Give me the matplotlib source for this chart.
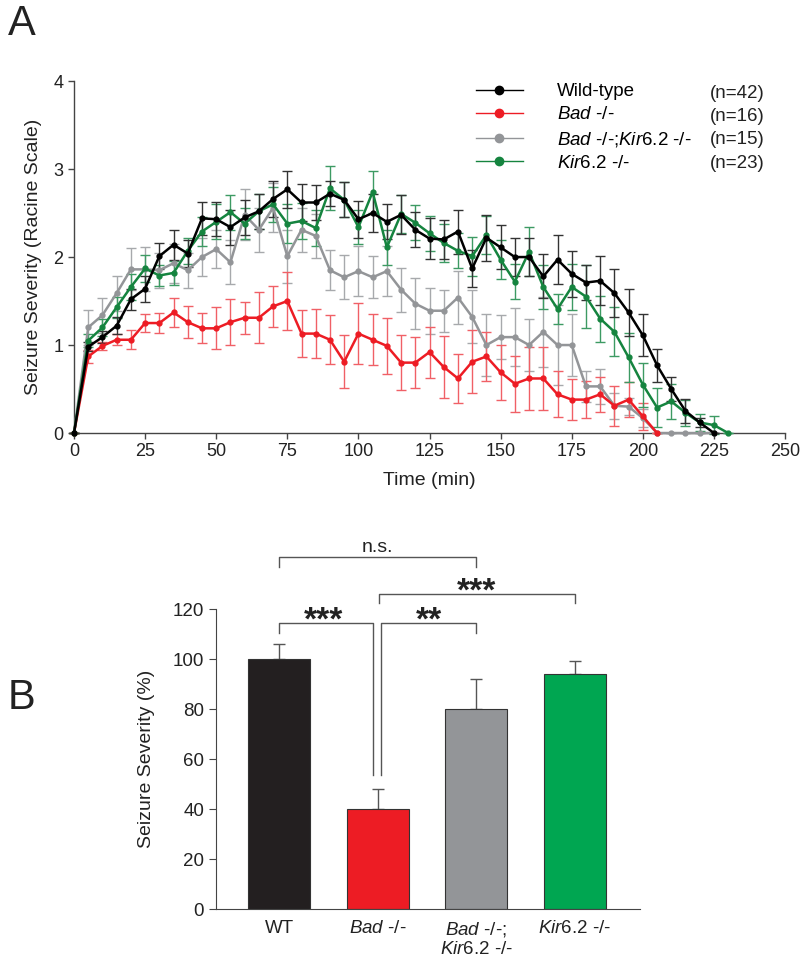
import numpy as np
import matplotlib
matplotlib.use("Agg")
import matplotlib.pyplot as plt
from matplotlib.lines import Line2D

plt.rcParams['font.family'] = ['Liberation Sans', 'DejaVu Sans']
plt.rcParams['mathtext.fontset'] = 'custom'
plt.rcParams['mathtext.rm'] = 'Liberation Sans'
plt.rcParams['mathtext.it'] = 'Liberation Sans:italic'

# ---- panel A data (time course, Racine scale) ----
time_wt = [0, 5, 10, 15, 20, 25, 30, 35, 40, 45, 50, 55, 60, 65, 70, 75, 80, 85, 90, 95,
           100, 105, 110, 115, 120, 125, 130, 135, 140, 145, 150, 155, 160, 165, 170, 175,
           180, 185, 190, 195, 200, 205, 210, 215, 220, 225]
wt = [0, 0.98, 1.09, 1.22, 1.52, 1.64, 2.01, 2.14, 2.04, 2.44, 2.43, 2.34, 2.45, 2.52, 2.66,
      2.77, 2.62, 2.62, 2.72, 2.65, 2.43, 2.50, 2.40, 2.48, 2.31, 2.21, 2.20, 2.29, 1.87, 2.22,
      2.11, 2.00, 2.00, 1.78, 1.97, 1.81, 1.71, 1.73, 1.59, 1.37, 1.11, 0.77, 0.50, 0.25, 0.12, 0.0]
wt_err = [0, 0.05, 0.07, 0.10, 0.12, 0.15, 0.15, 0.17, 0.15, 0.19, 0.19, 0.20, 0.20, 0.20, 0.20,
          0.21, 0.21, 0.20, 0.14, 0.20, 0.21, 0.22, 0.20, 0.22, 0.20, 0.23, 0.22, 0.25, 0.21, 0.26,
          0.25, 0.22, 0.22, 0.25, 0.28, 0.26, 0.20, 0.28, 0.27, 0.27, 0.24, 0.19, 0.14, 0.14, 0.05, 0]

time_bad = [0, 5, 10, 15, 20, 25, 30, 35, 40, 45, 50, 55, 60, 65, 70, 75, 80, 85, 90, 95,
            100, 105, 110, 115, 120, 125, 130, 135, 140, 145, 150, 155, 160, 165, 170, 175,
            180, 185, 190, 195, 200, 205]
bad = [0, 0.87, 0.99, 1.06, 1.06, 1.25, 1.25, 1.37, 1.26, 1.19, 1.19, 1.26, 1.31, 1.31, 1.44,
       1.50, 1.13, 1.13, 1.06, 0.81, 1.13, 1.06, 0.99, 0.80, 0.80, 0.92, 0.75, 0.62, 0.81, 0.87,
       0.69, 0.56, 0.62, 0.62, 0.44, 0.38, 0.38, 0.44, 0.31, 0.38, 0.19, 0.0]
bad_err = [0, 0.07, 0.05, 0.06, 0.11, 0.10, 0.11, 0.16, 0.18, 0.17, 0.24, 0.26, 0.18, 0.29, 0.23,
           0.33, 0.27, 0.28, 0.28, 0.30, 0.35, 0.29, 0.32, 0.31, 0.29, 0.29, 0.35, 0.28, 0.36, 0.28,
           0.31, 0.32, 0.36, 0.36, 0.26, 0.23, 0.21, 0.20, 0.23, 0.20, 0.15, 0]

time_dko = time_wt
dko = [0, 1.20, 1.34, 1.59, 1.86, 1.86, 1.85, 1.93, 1.85, 2.00, 2.09, 1.94, 2.48, 2.31, 2.56,
       2.01, 2.31, 2.24, 1.85, 1.77, 1.84, 1.77, 1.84, 1.63, 1.47, 1.39, 1.39, 1.54, 1.32, 1.00,
       1.09, 1.09, 1.00, 1.15, 1.00, 1.00, 0.53, 0.53, 0.31, 0.30, 0.17, 0, 0, 0, 0, 0]
dko_err = [0, 0.20, 0.20, 0.20, 0.24, 0.25, 0.20, 0.22, 0.20, 0.22, 0.22, 0.25, 0.29, 0.25, 0.28,
           0.30, 0.25, 0.25, 0.23, 0.25, 0.28, 0.24, 0.28, 0.25, 0.29, 0.26, 0.24, 0.30, 0.30, 0.35,
           0.25, 0.33, 0.30, 0.40, 0.45, 0.35, 0.18, 0.20, 0.15, 0.10, 0.10, 0, 0, 0, 0, 0]

time_kir = time_wt + [230]
kir = [0, 1.05, 1.20, 1.43, 1.66, 1.87, 1.79, 1.82, 2.07, 2.29, 2.40, 2.51, 2.38, 2.52, 2.60,
       2.38, 2.41, 2.33, 2.78, 2.65, 2.34, 2.74, 2.11, 2.49, 2.39, 2.27, 2.16, 2.07, 2.01, 2.25,
       1.97, 1.72, 2.06, 1.66, 1.41, 1.66, 1.55, 1.30, 1.15, 0.86, 0.55, 0.29, 0.36, 0.23, 0.12,
       0.09, 0.0]
kir_err = [0, 0.07, 0.10, 0.12, 0.15, 0.15, 0.12, 0.14, 0.15, 0.17, 0.20, 0.20, 0.18, 0.20, 0.20,
           0.22, 0.20, 0.20, 0.25, 0.20, 0.19, 0.24, 0.20, 0.22, 0.20, 0.20, 0.22, 0.20, 0.22, 0.22,
           0.22, 0.20, 0.28, 0.25, 0.17, 0.26, 0.36, 0.26, 0.28, 0.28, 0.25, 0.22, 0.20, 0.15, 0.10,
           0.10, 0]

legend_names = ['Wild-type', r'$\mathit{Bad}$ -/-',
                r'$\mathit{Bad}$ -/-;$\mathit{Kir}$6.2 -/-', r'$\mathit{Kir}$6.2 -/-']
legend_n = ['(n=42)', '(n=16)', '(n=15)', '(n=23)']

# ---- panel B data (% severity) ----
groups = ['WT', r'$\mathit{Bad}$ -/-', '$\\mathit{Bad}$ -/-;\n$\\mathit{Kir}$6.2 -/-',
          r'$\mathit{Kir}$6.2 -/-']
severity = [100, 40.2, 80.1, 94.1]
severity_err = [6, 8, 12.2, 5.3]

c_black, c_red, c_gray, c_green = '#000000', '#ed1c24', '#939598', '#15843f'
bar_colors = ['#231f20', '#ed1c24', '#939598', '#00a651']

fig = plt.figure(figsize=(8, 9.64), dpi=100)

# ---------------- panel A ----------------
ax1 = fig.add_axes([0.0925, 0.5508, 0.8888, 0.3651])
series = [
    (time_dko, dko, dko_err, c_gray, '#a7a9ac'),
    (time_bad, bad, bad_err, c_red, '#f06066'),
    (time_kir, kir, kir_err, c_green, '#3d9a63'),
    (time_wt, wt, wt_err, c_black, '#333333'),
]
for t, y, e, col, ecol in series:
    ax1.errorbar(t, y, yerr=e, fmt='-o', color=col, ecolor=ecol, lw=1.8, ms=3.5,
                 elinewidth=1.0, capsize=3.5, capthick=1.0, clip_on=False, zorder=3)

ax1.set_xlim(0, 250)
ax1.set_ylim(0, 4)
ax1.set_xticks(range(0, 251, 25))
ax1.set_yticks(range(0, 5))
for s in ['top', 'right']:
    ax1.spines[s].set_visible(False)
for s in ['left', 'bottom']:
    ax1.spines[s].set_color('#444444')
    ax1.spines[s].set_linewidth(1.0)
ax1.tick_params(direction='out', length=4, width=1, colors='#444444', labelcolor='#222222',
                labelsize=13)
ax1.set_xlabel('Time (min)', fontsize=14, color='#222222', labelpad=8)
ax1.set_ylabel('Seizure Severity (Racine Scale)', fontsize=14, color='#222222', labelpad=8)

handles = [Line2D([], [], color=c, lw=1.0, marker='o', ms=6)
           for c in [c_black, c_red, c_gray, c_green]]
fig.legend(handles, legend_names, loc='upper left', bbox_to_anchor=(476 / 800, 1 - 83 / 964),
           frameon=False, fontsize=13.5, handlelength=2.5, handletextpad=1.8,
           labelspacing=0.33, borderpad=0, borderaxespad=0)
for i, n in enumerate(legend_n):
    fig.text(710 / 800, 1 - (93 + 23.5 * i) / 964, n, fontsize=13.5, va='center',
             color='#222222')

fig.text(8 / 800, 1 - 4 / 964, 'A', fontsize=30, va='top', ha='left', color='#222222')
fig.text(8 / 800, 1 - 678 / 964, 'B', fontsize=30, va='top', ha='left', color='#222222')

# ---------------- panel B ----------------
ax2 = fig.add_axes([216 / 800, 1 - 909.3 / 964, 424 / 800, 375 / 964])
xpos = np.arange(len(groups))
ax2.bar(xpos, severity, width=0.63, color=bar_colors, edgecolor='#333333', linewidth=0.8,
        zorder=2)
ax2.errorbar(xpos, severity, yerr=[[0] * 4, severity_err], fmt='none', ecolor='#555555',
             elinewidth=1.0, capsize=4, capthick=1.0, zorder=1)
ax2.set_xlim(-0.64, 3.66)
ax2.set_ylim(0, 150)
ax2.set_yticks(range(0, 121, 20))
ax2.spines['left'].set_bounds(0, 120)
for s in ['top', 'right']:
    ax2.spines[s].set_visible(False)
for s in ['left', 'bottom']:
    ax2.spines[s].set_color('#444444')
ax2.set_xticks(xpos)
ax2.set_xticklabels(groups, fontsize=13.5, color='#222222', linespacing=1.1, va='top')
ax2.tick_params(axis='x', length=0, pad=8)
ax2.tick_params(axis='y', direction='out', length=5, colors='#444444', labelcolor='#222222',
                labelsize=13.5)
ax2.set_ylabel('Seizure Severity (%)', fontsize=14, color='#222222', labelpad=10)
ax2.yaxis.set_label_coords(-0.145, 0.4)

bk = dict(color='#555555', lw=1.0, clip_on=False)
star = dict(ha='center', va='baseline', fontsize=24, fontweight='bold', color='#222222')
# n.s. WT vs double KO
ax2.plot([0, 0, 2, 2], [137, 140.8, 140.8, 137], **bk)
ax2.text(1, 143, 'n.s.', ha='center', va='baseline', fontsize=14, color='#222222')
# *** Bad vs Kir6.2
ax2.plot([1.01, 1.01, 3, 3], [122.4, 126.1, 126.1, 122.4], **bk)
ax2.text(2, 123.5, '***', **star)
# *** WT vs Bad
ax2.plot([0, 0, 0.95, 0.95], [110.4, 114.6, 114.6, 53.7], **bk)
ax2.text(0.45, 112, '***', **star)
# ** Bad vs double KO
ax2.plot([1.03, 1.03, 2, 2], [53.7, 114.6, 114.6, 110.4], **bk)
ax2.text(1.52, 112, '**', **star)

fig.savefig('out.png', dpi=100)
